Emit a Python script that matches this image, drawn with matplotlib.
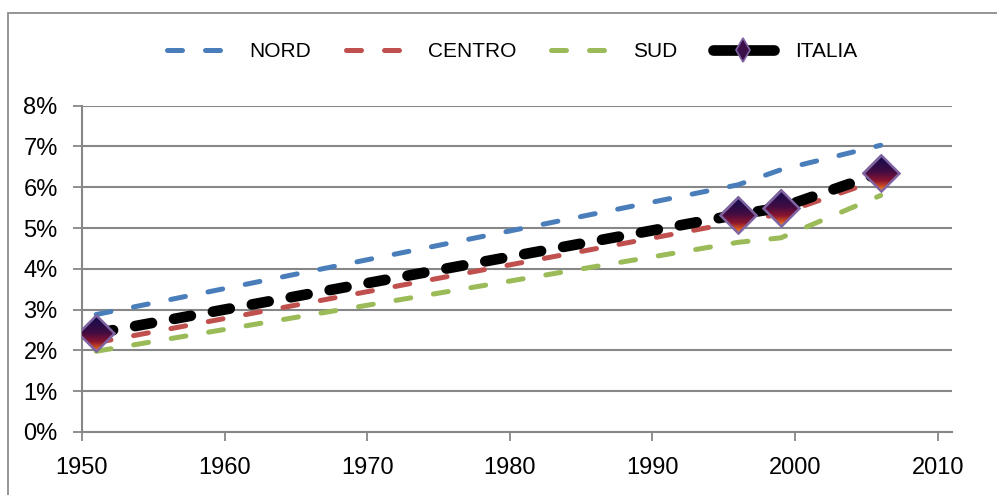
import numpy as np
import matplotlib
matplotlib.use("Agg")
import matplotlib.pyplot as plt
from matplotlib.lines import Line2D
from matplotlib.patches import Polygon, Rectangle
from matplotlib.colors import LinearSegmentedColormap
from matplotlib.ticker import FuncFormatter
from matplotlib.transforms import IdentityTransform

# === Daten ==============================================================
years = [1951, 1996, 1999, 2006]
nord = [2.88, 6.06, 6.43, 7.03]
centro = [2.19, 5.15, 5.35, 6.20]
sud = [1.98, 4.65, 4.76, 5.80]
italia = [2.42, 5.33, 5.50, 6.35]
labels = ["NORD", "CENTRO", "SUD", "ITALIA"]
xticks = [1950, 1960, 1970, 1980, 1990, 2000, 2010]
yticks = [0, 1, 2, 3, 4, 5, 6, 7, 8]

# === Stil ===============================================================
plt.rcParams['font.family'] = ['Liberation Sans', 'DejaVu Sans']
c_nord = '#4a7ebb'
c_centro = '#c0504d'
c_sud = '#9bbb59'
c_grid = '#878787'
c_edge = '#8064a2'
DPI = 100

fig = plt.figure(figsize=(9.97, 4.95), dpi=DPI)
ax = fig.add_axes([0.0822, 0.1273, 0.8727, 0.6592])

# Rahmen um das Diagramm
fig.patches.append(Rectangle((8 / 997, -0.05), 1.0, 1 - 13 / 495 + 0.05,
                             transform=fig.transFigure, fill=False,
                             ec='#8c8c8c', lw=1.3))

# Linien
thin = dict(lw=3.6, dashes=(3.0, 4.6), dash_capstyle='round')
ax.plot(years, nord, color=c_nord, zorder=3, **thin)
ax.plot(years, centro, color=c_centro, zorder=3, **thin)
ax.plot(years, sud, color=c_sud, zorder=3, **thin)
ax.plot(years, italia, color='black', lw=7.7, dashes=(1.6, 2.1),
        dash_capstyle='round', zorder=4)

ax.set_xlim(1950, 2011)
ax.set_ylim(0, 8)

# Rauten mit Farbverlauf (Marker-Kontur + geclipptes Bild)
ms = 18.8
cmap = LinearSegmentedColormap.from_list(
    'rauten', [(0.0, '#f59a22'), (0.12, '#d0501f'), (0.28, '#8a1530'),
               (0.52, '#420c42'), (1.0, '#0c0c4e')])
grad = np.linspace(0, 1, 128).reshape(-1, 1)
h = 0.7071 * ms * DPI / 72
inv = ax.transData.inverted()
for xv, yv in zip(years, italia):
    px, py = ax.transData.transform((xv, yv))
    verts = [(px, py + h), (px + h, py), (px, py - h), (px - h, py)]
    clip = Polygon(verts, closed=True, transform=IdentityTransform())
    x0, y0 = inv.transform((px - h, py - h))
    x1, y1 = inv.transform((px + h, py + h))
    im = ax.imshow(grad, cmap=cmap, extent=[x0, x1, y0, y1], origin='lower',
                   aspect='auto', interpolation='bilinear', zorder=5)
    im.set_clip_path(clip)
ax.plot(years, italia, ls='none', marker='D', ms=ms, mfc='none',
        mec=c_edge, mew=1.8, zorder=6)

ax.set_xlim(1950, 2011)
ax.set_ylim(0, 8)

# Achsen
ax.set_xticks(xticks)
ax.set_yticks(yticks)
ax.yaxis.set_major_formatter(FuncFormatter(lambda v, p: f"{v:.0f}%"))
ax.grid(axis='y', color=c_grid, lw=1.5)
ax.set_axisbelow(True)
for s in ['top', 'right']:
    ax.spines[s].set_visible(False)
for s in ['left', 'bottom']:
    ax.spines[s].set_color(c_grid)
    ax.spines[s].set_linewidth(1.5)
ax.tick_params(axis='y', length=6.5, width=1.3, color=c_grid, pad=11,
               labelsize=17)
ax.tick_params(axis='x', length=6.2, width=1.3, color=c_grid, pad=12,
               labelsize=17)

# Legende
handles = [
    Line2D([], [], color=c_nord, **thin),
    Line2D([], [], color=c_centro, **thin),
    Line2D([], [], color=c_sud, **thin),
    Line2D([], [], color='black', lw=7.7, solid_capstyle='round', marker='d',
           ms=12, mfc='#3b0f4a', mec=c_edge, mew=1.2),
]
fig.legend(handles, labels, loc='center', bbox_to_anchor=(0.5135, 0.895),
           ncol=4, frameon=False, handlelength=2.95, handletextpad=1.0,
           columnspacing=1.67, fontsize=15)

fig.savefig('out.png', dpi=DPI)
